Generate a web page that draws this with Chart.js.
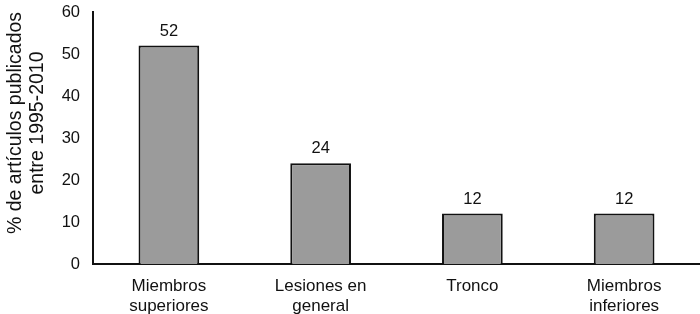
<!DOCTYPE html>
<html>
<head>
<meta charset="utf-8">
<script src="https://cdn.jsdelivr.net/npm/chart.js@4/dist/chart.umd.min.js"></script>
<style>
  html, body { margin: 0; padding: 0; background: #fff; }
  #wrap { width: 700px; height: 314px; }
</style>
</head>
<body>
<div id="wrap"><canvas id="barChart" width="700" height="314"></canvas></div>
<script>
const categories = [
    ['Miembros', 'superiores'],
    ['Lesiones en', 'general'],
    'Tronco',
    ['Miembros', 'inferiores']
];
const percentages = [52, 24, 12, 12];
const yTicks = [0, 10, 20, 30, 40, 50, 60];
const yTitle = ['% de artículos publicados', 'entre 1995-2010'];

const FONT = '"Liberation Sans", Arial, Helvetica, sans-serif';

// value labels above the bars + the rotated axis title (sits a bit above centre in the original)
const annotations = {
    id: 'annotations',
    afterDatasetsDraw(chart) {
        const ctx = chart.ctx;
        const meta = chart.getDatasetMeta(0);
        ctx.save();
        ctx.font = '16.5px ' + FONT;
        ctx.fillStyle = '#111';
        ctx.textAlign = 'center';
        ctx.textBaseline = 'bottom';
        meta.data.forEach((bar, i) => {
            ctx.fillText(String(percentages[i]), bar.x, bar.y - 6);
        });
        ctx.restore();

        ctx.save();
        ctx.font = '19.5px ' + FONT;
        ctx.fillStyle = '#111';
        ctx.textAlign = 'center';
        ctx.textBaseline = 'middle';
        ctx.translate(0, 123);
        ctx.rotate(-Math.PI / 2);
        ctx.fillText(yTitle[0], 0, 16);
        ctx.fillText(yTitle[1], 0, 38);
        ctx.restore();
    }
};

const ctx = document.getElementById('barChart').getContext('2d');

new Chart(ctx, {
    type: 'bar',
    data: {
        labels: categories,
        datasets: [{
            data: percentages,
            backgroundColor: '#9b9b9b',
            borderColor: '#111',
            borderWidth: 2,
            barPercentage: 0.8,
            categoryPercentage: 0.5
        }]
    },
    options: {
        responsive: false,
        animation: false,
        layout: { padding: { top: 12, right: 0, left: 0, bottom: 0 } },
        plugins: {
            legend: { display: false },
            tooltip: { enabled: false }
        },
        scales: {
            x: {
                grid: { display: false, drawTicks: false },
                border: { display: true, color: '#111', width: 2 },
                ticks: {
                    color: '#111',
                    font: { family: FONT, size: 17, lineHeight: 1.15 },
                    padding: 13,
                    maxRotation: 0,
                    autoSkip: false
                },
                afterFit(scale) { scale.height = 50; }
            },
            y: {
                min: 0,
                max: 60,
                afterBuildTicks(scale) {
                    scale.ticks = yTicks.map(v => ({ value: v }));
                },
                grid: { display: false, drawTicks: false },
                border: { display: true, color: '#111', width: 2 },
                ticks: {
                    color: '#111',
                    font: { family: FONT, size: 16.5 },
                    padding: 13
                },
                afterFit(scale) {
                    scale.width = 93;
                    scale.paddingTop = 0;
                    scale.paddingBottom = 0;
                }
            }
        }
    },
    plugins: [annotations]
});
</script>
</body>
</html>
